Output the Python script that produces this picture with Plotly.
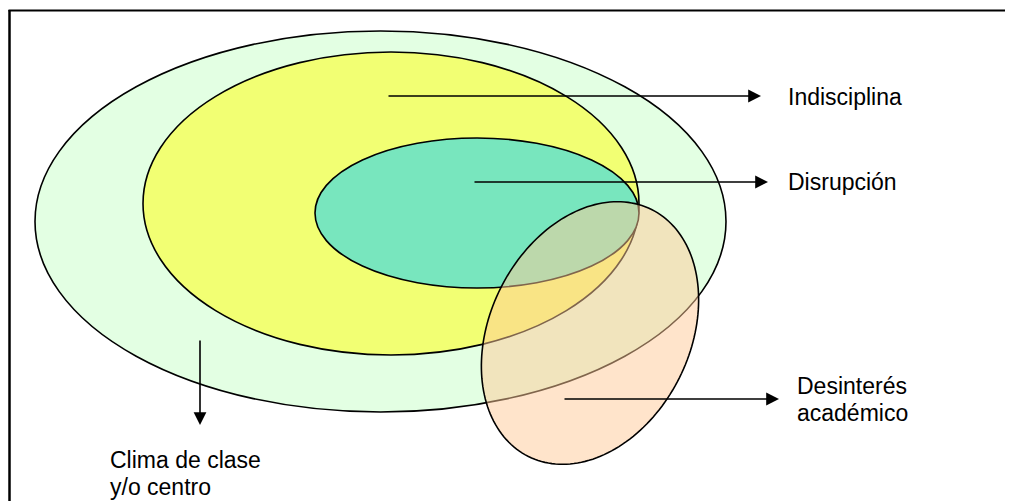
import numpy as np
import plotly.graph_objects as go

W, H = 1013, 501
PAD = 8  # page body margin

# ellipses: name, centre x, centre y, half-width, half-height, fill
ellipse_names = ["Clima de clase", "Indisciplina", "Disrupción"]
ellipse_cx = [380.5, 391, 477]
ellipse_cy = [221.5, 203.5, 213]
ellipse_rx = [345.5, 248, 162]
ellipse_ry = [190.5, 151.5, 75]
ellipse_fill = ["#E3FFE3", "#F2FF73", "#78E6BE"]

# tilted ellipse (Desinterés académico)
tilt_cx, tilt_cy = 590, 333
tilt_a, tilt_b = 138, 100
tilt_deg = 26.5

# arrows: tail -> tip
arrow_tail_x = [387, 473, 563, 200]
arrow_tail_y = [96, 182, 399, 339]
arrow_tip_x = [761, 768, 779, 200]
arrow_tip_y = [96, 182, 399, 425]

# label lines
label_text = ["Indisciplina", "Disrupción", "Desinterés", "académico", "Clima de clase", "y/o centro"]
label_x = [786, 786, 795, 795, 108, 108]
label_y = [97, 182, 386, 413, 460, 487]

fig = go.Figure()

shapes = []
for cx, cy, rx, ry, fc in zip(ellipse_cx, ellipse_cy, ellipse_rx, ellipse_ry, ellipse_fill):
    shapes.append(dict(type="circle", xref="x", yref="y",
                       x0=cx - rx, x1=cx + rx, y0=cy - ry, y1=cy + ry,
                       fillcolor=fc, line=dict(color="black", width=1.6), layer="below"))

t = np.linspace(0, 2 * np.pi, 181)
th = np.deg2rad(tilt_deg)
ex = tilt_cx + tilt_b * np.cos(t) * np.cos(th) - tilt_a * np.sin(t) * np.sin(th)
ey = tilt_cy + tilt_b * np.cos(t) * np.sin(th) + tilt_a * np.sin(t) * np.cos(th)
path = "M" + " L".join(f"{x:.2f},{y:.2f}" for x, y in zip(ex, ey)) + " Z"
shapes.append(dict(type="path", xref="x", yref="y", path=path,
                   fillcolor="rgba(255,202,151,0.5)", line=dict(color="black", width=1.6),
                   layer="below"))

# frame
shapes.append(dict(type="line", xref="x", yref="y", x0=9.5, x1=9.5, y0=10, y1=H + PAD,
                   line=dict(color="black", width=2.5)))
shapes.append(dict(type="line", xref="x", yref="y", x0=8.5, x1=W + PAD, y0=10.5, y1=10.5,
                   line=dict(color="black", width=2)))

annotations = []
for tx, ty, hx, hy in zip(arrow_tail_x, arrow_tail_y, arrow_tip_x, arrow_tip_y):
    annotations.append(dict(x=hx, y=hy, ax=tx, ay=ty, xref="x", yref="y",
                            axref="x", ayref="y", text="", showarrow=True,
                            arrowhead=2, arrowsize=1.6, arrowwidth=1.6, arrowcolor="black"))
for txt, lx, ly in zip(label_text, label_x, label_y):
    annotations.append(dict(x=lx, y=ly, xref="x", yref="y", text=txt, showarrow=False,
                            xanchor="left", yanchor="middle", align="left",
                            font=dict(family="Liberation Sans, Arial", size=23, color="black")))

fig.update_layout(
    width=W, height=H,
    margin=dict(l=0, r=0, t=0, b=0),
    paper_bgcolor="white", plot_bgcolor="white",
    shapes=shapes, annotations=annotations,
    showlegend=False,
    xaxis=dict(range=[PAD, W + PAD], visible=False, fixedrange=True),
    yaxis=dict(range=[H + PAD, PAD], visible=False, fixedrange=True),
)

fig.write_html("out.html", config={"displayModeBar": False})
